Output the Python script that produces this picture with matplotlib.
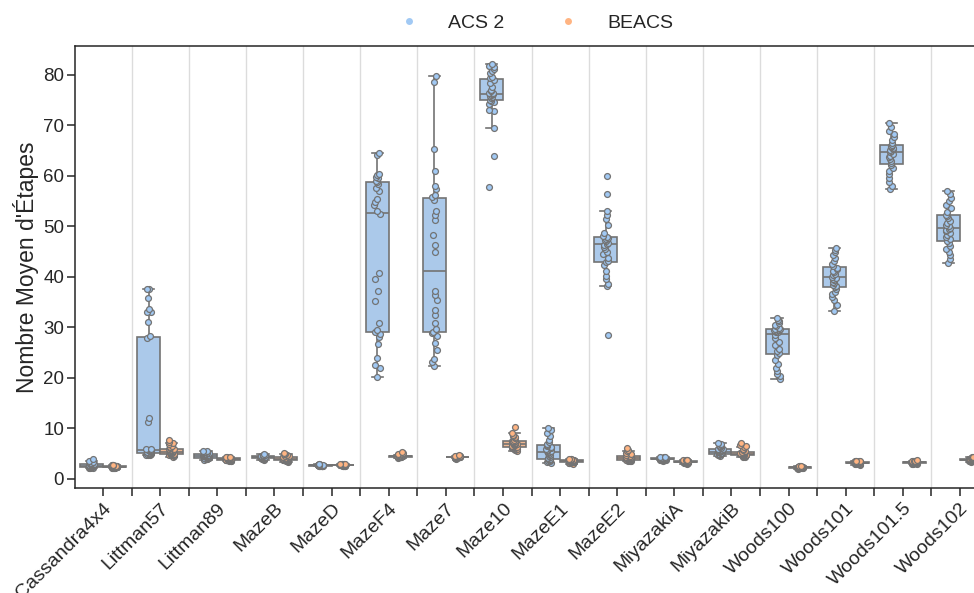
import colorsys

import numpy as np
import matplotlib
matplotlib.use("Agg")
import matplotlib.pyplot as plt
from matplotlib.colors import to_rgb
from matplotlib.lines import Line2D

plt.rcParams['font.family'] = ['Liberation Sans', 'DejaVu Sans']

# Environments on the x axis
environments = ["Cassandra4x4", "Littman57", "Littman89", "MazeB", "MazeD",
                "MazeF4", "Maze7", "Maze10", "MazeE1", "MazeE2", "MiyazakiA",
                "MiyazakiB", "Woods100", "Woods101", "Woods101.5", "Woods102"]
agents = ["ACS 2", "BEACS"]

# Average number of steps per run, one list per environment and agent
cassandra4x4_acs2 = [2.1, 2.2, 2.2, 2.3, 2.3, 2.4, 2.4, 2.4, 2.5, 2.5, 2.5, 2.6, 2.6, 2.6, 2.6,
                     2.7, 2.7, 2.7, 2.8, 2.8, 2.8, 2.9, 2.9, 3.0, 3.0, 3.1, 3.2, 3.4, 3.6, 3.9]
cassandra4x4_beacs = [2.1, 2.2, 2.2, 2.2, 2.3, 2.3, 2.3, 2.3, 2.3, 2.4, 2.4, 2.4, 2.4, 2.4, 2.4,
                      2.4, 2.4, 2.5, 2.5, 2.5, 2.5, 2.5, 2.5, 2.6, 2.6, 2.6, 2.7, 2.7, 2.8, 2.8]
littman57_acs2 = [4.7, 4.8, 4.8, 4.9, 5.0, 5.0, 5.1, 5.1, 5.2, 5.3, 5.4, 5.5, 5.5, 5.6, 5.7,
                  5.7, 5.8, 5.9, 6.0, 11.2, 12.1, 27.8, 28.2, 31.0, 33.0, 33.1, 33.7, 35.8, 37.5, 37.6]
littman57_beacs = [4.4, 4.6, 4.7, 4.8, 4.8, 4.9, 4.9, 4.9, 5.0, 5.0, 5.1, 5.2, 5.3, 5.3, 5.4,
                   5.4, 5.5, 5.6, 5.6, 5.7, 5.8, 5.9, 5.9, 6.2, 6.4, 6.6, 6.9, 7.1, 7.4, 7.7]
littman89_acs2 = [3.8, 3.9, 4.0, 4.0, 4.1, 4.1, 4.2, 4.2, 4.2, 4.3, 4.3, 4.4, 4.4, 4.5, 4.5,
                  4.6, 4.6, 4.7, 4.7, 4.8, 4.9, 5.0, 5.0, 5.1, 5.1, 5.2, 5.3, 5.4, 5.5, 5.6]
littman89_beacs = [3.5, 3.6, 3.6, 3.7, 3.7, 3.7, 3.8, 3.8, 3.8, 3.8, 3.8, 3.9, 3.9, 3.9, 3.9,
                   3.9, 3.9, 4.0, 4.0, 4.0, 4.0, 4.0, 4.1, 4.1, 4.1, 4.2, 4.2, 4.3, 4.3, 4.4]
mazeb_acs2 = [3.8, 3.9, 3.9, 4.0, 4.0, 4.1, 4.1, 4.1, 4.2, 4.2, 4.2, 4.2, 4.3, 4.3, 4.3,
              4.3, 4.3, 4.4, 4.4, 4.4, 4.4, 4.5, 4.5, 4.5, 4.6, 4.6, 4.6, 4.7, 4.8, 4.9]
mazeb_beacs = [3.4, 3.5, 3.6, 3.6, 3.7, 3.7, 3.7, 3.8, 3.8, 3.8, 3.8, 3.9, 3.9, 3.9, 3.9,
               3.9, 4.0, 4.0, 4.0, 4.1, 4.1, 4.2, 4.3, 4.4, 4.5, 4.6, 4.8, 4.9, 5.0, 5.2]
mazed_acs2 = [2.5, 2.5, 2.6, 2.6, 2.6, 2.6, 2.6, 2.6, 2.7, 2.7, 2.7, 2.7, 2.7, 2.7, 2.7,
              2.7, 2.7, 2.7, 2.7, 2.7, 2.7, 2.8, 2.8, 2.8, 2.8, 2.8, 2.8, 2.8, 2.9, 2.9]
mazed_beacs = [2.5, 2.6, 2.6, 2.6, 2.6, 2.7, 2.7, 2.7, 2.7, 2.7, 2.7, 2.7, 2.7, 2.7, 2.8,
               2.8, 2.8, 2.8, 2.8, 2.8, 2.8, 2.8, 2.8, 2.8, 2.9, 2.9, 2.9, 2.9, 3.0, 3.0]
mazef4_acs2 = [20.1, 22.0, 22.6, 24.0, 26.7, 28.1, 28.6, 29.0, 29.5, 30.9, 35.2, 37.2, 39.6, 40.7, 52.4,
               53.0, 54.2, 54.9, 55.4, 56.9, 57.5, 58.4, 58.8, 59.0, 59.5, 59.8, 60.2, 60.4, 64.2, 64.5]
mazef4_beacs = [4.2, 4.3, 4.3, 4.4, 4.4, 4.4, 4.4, 4.4, 4.5, 4.5, 4.5, 4.5, 4.5, 4.5, 4.5,
                4.5, 4.5, 4.5, 4.6, 4.6, 4.6, 4.6, 4.6, 4.7, 4.7, 4.8, 4.9, 5.0, 5.2, 5.4]
maze7_acs2 = [22.4, 23.2, 23.8, 25.5, 27.0, 28.2, 28.8, 29.0, 29.6, 30.8, 32.5, 33.4, 35.5, 36.4, 37.2,
              45.0, 46.4, 48.3, 51.3, 52.3, 53.0, 55.2, 55.8, 56.2, 57.4, 57.9, 61.0, 65.3, 78.5, 79.8]
maze7_beacs = [4.0, 4.1, 4.1, 4.2, 4.2, 4.2, 4.2, 4.3, 4.3, 4.3, 4.3, 4.3, 4.3, 4.3, 4.3,
               4.3, 4.3, 4.3, 4.4, 4.4, 4.4, 4.4, 4.4, 4.4, 4.5, 4.5, 4.5, 4.6, 4.6, 4.7]
maze10_acs2 = [57.8, 64.0, 69.5, 72.9, 73.1, 74.2, 74.6, 74.9, 75.0, 75.4, 75.6, 75.8, 76.0, 76.1, 76.2,
               76.3, 76.4, 76.8, 77.0, 77.5, 78.3, 78.9, 79.3, 79.6, 80.3, 80.8, 81.2, 81.5, 81.7, 82.2]
maze10_beacs = [5.6, 5.8, 5.9, 6.0, 6.1, 6.2, 6.3, 6.4, 6.4, 6.5, 6.6, 6.7, 6.8, 6.9, 7.0,
                7.0, 7.1, 7.2, 7.3, 7.4, 7.5, 7.6, 7.6, 7.8, 8.0, 8.2, 8.4, 8.7, 9.0, 10.3]
mazee1_acs2 = [3.1, 3.3, 3.5, 3.6, 3.8, 3.9, 3.9, 4.0, 4.1, 4.3, 4.5, 4.7, 4.9, 5.1, 5.3,
               5.5, 5.6, 5.8, 5.9, 6.1, 6.3, 6.5, 6.7, 6.9, 7.3, 7.8, 8.5, 9.0, 9.6, 10.0]
mazee1_beacs = [3.0, 3.1, 3.2, 3.2, 3.3, 3.3, 3.3, 3.4, 3.4, 3.4, 3.4, 3.4, 3.5, 3.5, 3.5,
                3.5, 3.5, 3.5, 3.6, 3.6, 3.6, 3.6, 3.7, 3.7, 3.7, 3.8, 3.8, 3.9, 3.9, 4.0]
mazee2_acs2 = [28.4, 38.2, 38.6, 39.5, 40.2, 41.1, 42.3, 43.0, 43.1, 43.8, 44.5, 45.0, 45.6, 46.0, 46.4,
               46.6, 46.8, 47.0, 47.2, 47.4, 47.7, 47.9, 48.0, 48.6, 50.2, 51.5, 52.2, 53.1, 56.4, 60.0]
mazee2_beacs = [3.5, 3.6, 3.6, 3.7, 3.7, 3.8, 3.8, 3.8, 3.9, 3.9, 4.0, 4.0, 4.1, 4.1, 4.2,
                4.2, 4.2, 4.3, 4.3, 4.4, 4.4, 4.5, 4.5, 4.6, 4.8, 5.0, 5.2, 5.5, 5.8, 6.1]
miyazakia_acs2 = [3.6, 3.7, 3.7, 3.8, 3.8, 3.8, 3.9, 3.9, 3.9, 3.9, 3.9, 4.0, 4.0, 4.0, 4.0,
                  4.0, 4.0, 4.0, 4.0, 4.1, 4.1, 4.1, 4.1, 4.1, 4.2, 4.2, 4.2, 4.3, 4.3, 4.4]
miyazakia_beacs = [3.0, 3.1, 3.1, 3.2, 3.2, 3.2, 3.3, 3.3, 3.3, 3.3, 3.3, 3.4, 3.4, 3.4, 3.4,
                   3.4, 3.4, 3.4, 3.5, 3.5, 3.5, 3.5, 3.5, 3.6, 3.6, 3.6, 3.7, 3.7, 3.8, 3.8]
miyazakib_acs2 = [4.6, 4.7, 4.8, 4.9, 5.0, 5.0, 5.0, 5.0, 5.1, 5.1, 5.2, 5.2, 5.3, 5.3, 5.4,
                  5.4, 5.5, 5.5, 5.6, 5.7, 5.8, 5.9, 5.9, 6.0, 6.1, 6.3, 6.5, 6.7, 6.9, 7.1]
miyazakib_beacs = [4.3, 4.4, 4.5, 4.5, 4.6, 4.6, 4.7, 4.7, 4.8, 4.8, 4.8, 4.9, 4.9, 4.9, 5.0,
                   5.0, 5.0, 5.1, 5.1, 5.2, 5.3, 5.4, 5.4, 5.6, 5.8, 6.0, 6.3, 6.6, 6.8, 7.1]
woods100_acs2 = [19.8, 20.3, 20.8, 21.3, 22.0, 22.8, 23.5, 24.6, 24.9, 25.3, 25.8, 26.5, 27.2, 27.8, 28.5,
                 29.0, 29.1, 29.2, 29.3, 29.4, 29.5, 29.6, 29.6, 29.8, 30.2, 30.5, 30.8, 31.2, 31.5, 31.8]
woods100_beacs = [2.0, 2.1, 2.1, 2.1, 2.2, 2.2, 2.2, 2.2, 2.2, 2.2, 2.3, 2.3, 2.3, 2.3, 2.3,
                  2.3, 2.3, 2.3, 2.3, 2.3, 2.3, 2.4, 2.4, 2.4, 2.4, 2.4, 2.4, 2.5, 2.5, 2.6]
woods101_acs2 = [33.3, 34.5, 35.5, 36.0, 36.6, 37.0, 37.5, 37.9, 38.1, 38.4, 38.7, 39.0, 39.3, 39.5, 39.8,
                 40.0, 40.3, 40.6, 40.9, 41.2, 41.5, 41.8, 42.1, 42.6, 43.2, 43.8, 44.3, 44.9, 45.4, 45.7]
woods101_beacs = [2.8, 2.9, 2.9, 3.0, 3.0, 3.0, 3.1, 3.1, 3.1, 3.1, 3.1, 3.2, 3.2, 3.2, 3.2,
                  3.2, 3.2, 3.3, 3.3, 3.3, 3.3, 3.3, 3.4, 3.4, 3.4, 3.5, 3.5, 3.5, 3.6, 3.6]
woods101_5_acs2 = [57.4, 58.0, 58.8, 59.6, 60.4, 61.0, 61.6, 62.2, 62.5, 62.9, 63.3, 63.7, 64.0, 64.4, 64.7,
                   64.9, 65.1, 65.3, 65.5, 65.7, 65.9, 66.0, 66.1, 66.5, 67.0, 67.6, 68.2, 68.9, 69.7, 70.4]
woods101_5_beacs = [2.9, 3.0, 3.0, 3.1, 3.1, 3.1, 3.2, 3.2, 3.2, 3.2, 3.2, 3.3, 3.3, 3.3, 3.3,
                    3.3, 3.3, 3.3, 3.3, 3.4, 3.4, 3.4, 3.4, 3.4, 3.5, 3.5, 3.5, 3.6, 3.6, 3.7]
woods102_acs2 = [42.7, 43.5, 44.3, 45.0, 45.6, 46.2, 46.8, 47.1, 47.4, 47.8, 48.2, 48.6, 49.0, 49.3, 49.5,
                 49.7, 50.0, 50.3, 50.7, 51.1, 51.6, 52.0, 52.3, 52.9, 53.6, 54.3, 55.0, 55.7, 56.4, 57.0]
woods102_beacs = [3.4, 3.5, 3.5, 3.6, 3.6, 3.6, 3.7, 3.7, 3.7, 3.7, 3.8, 3.8, 3.8, 3.8, 3.8,
                  3.8, 3.9, 3.9, 3.9, 3.9, 3.9, 4.0, 4.0, 4.0, 4.1, 4.1, 4.1, 4.2, 4.3, 4.4]

acs2_runs = [cassandra4x4_acs2, littman57_acs2, littman89_acs2, mazeb_acs2, mazed_acs2,
             mazef4_acs2, maze7_acs2, maze10_acs2, mazee1_acs2, mazee2_acs2, miyazakia_acs2,
             miyazakib_acs2, woods100_acs2, woods101_acs2, woods101_5_acs2, woods102_acs2]
beacs_runs = [cassandra4x4_beacs, littman57_beacs, littman89_beacs, mazeb_beacs, mazed_beacs,
              mazef4_beacs, maze7_beacs, maze10_beacs, mazee1_beacs, mazee2_beacs, miyazakia_beacs,
              miyazakib_beacs, woods100_beacs, woods101_beacs, woods101_5_beacs, woods102_beacs]

palette = ["#a1c9f4", "#ffb482"]
line_gray = (0.45, 0.45, 0.45)
text_color = "#262626"


def desaturate(color, prop):
    h, l, s = colorsys.rgb_to_hls(*to_rgb(color))
    return colorsys.hls_to_rgb(h, l, s * prop)


fig = plt.figure(figsize=(9.74, 5.93), dpi=100)
ax = fig.add_axes([74.5 / 974, 105 / 593, 914 / 974, 442 / 593])

rng = np.random.default_rng(3)
centers = np.arange(len(environments))
offsets = [-0.2, 0.2]

for runs, color, off in zip([acs2_runs, beacs_runs], palette, offsets):
    pos = centers + off
    ax.boxplot(runs, positions=pos, widths=0.4, patch_artist=True,
               showfliers=False, manage_ticks=False,
               boxprops=dict(facecolor=desaturate(color, 0.75), edgecolor=line_gray, linewidth=1.2),
               whiskerprops=dict(color=line_gray, linewidth=1.2),
               capprops=dict(color=line_gray, linewidth=1.2),
               medianprops=dict(color=line_gray, linewidth=1.2),
               zorder=2)
    for p, vals in zip(pos, runs):
        vals = np.asarray(vals)
        xs = p + rng.uniform(-0.05, 0.05, len(vals))
        ax.scatter(xs, vals, s=18, facecolor=color, edgecolor=line_gray,
                   linewidth=0.9, zorder=3)

ax.set_xlim(-0.5, len(environments) - 0.5)
ax.set_ylim(-1.8, 85.7)

ax.set_xticks(centers)
ax.set_xticklabels(environments, rotation=45, ha='right', rotation_mode='anchor',
                   fontsize=14, color=text_color)
ax.set_xticks(centers[:-1] + 0.5, minor=True)
ax.grid(True, which='minor', axis='x', color='#dcdcdc', linewidth=1.0, zorder=0)
ax.set_axisbelow(True)

ax.set_yticks(np.arange(0, 81, 10))
ax.tick_params(which='both', direction='out', length=6, width=1.1, color=text_color, pad=2.5)
ax.tick_params(axis='y', labelsize=13.5, labelcolor=text_color, pad=1.5)

ax.set_ylabel("Nombre Moyen d'Étapes", fontsize=16.5, color=text_color, labelpad=3)

for side in ['left', 'bottom', 'top']:
    ax.spines[side].set_color(text_color)
    ax.spines[side].set_linewidth(1.1)
ax.spines['right'].set_visible(False)

handles = [Line2D([], [], marker='o', linestyle='', markersize=5,
                  markerfacecolor=c, markeredgewidth=0) for c in palette]
ax.legend(handles, agents, loc='lower center', bbox_to_anchor=(0.5, 0.993), ncol=2,
          frameon=False, fontsize=14, handletextpad=1.0, columnspacing=2.3,
          labelcolor=text_color)

fig.savefig("out.png", dpi=100)
